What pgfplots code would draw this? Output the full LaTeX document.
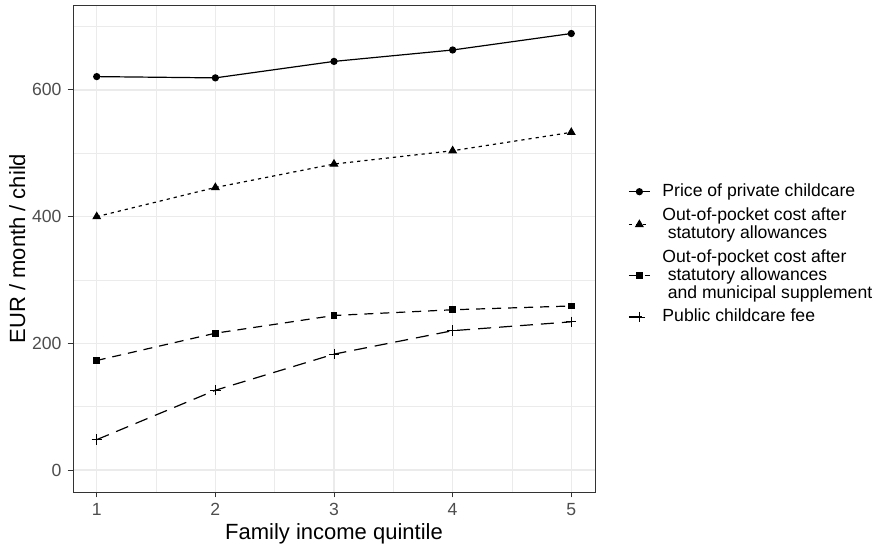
\documentclass[border=0pt]{standalone}
\usepackage{fontspec}
\setmainfont{Liberation Sans}
\usepackage{pgfplots}
\pgfplotsset{compat=1.18}
\definecolor{gridc}{HTML}{EBEBEB}
\definecolor{g20}{HTML}{333333}
\definecolor{g30}{HTML}{4D4D4D}
\begin{document}
\begin{tikzpicture}
\begin{axis}[
 scale only axis, width=261pt, height=243.5pt,
 xmin=0.8, xmax=5.2, ymin=-34.6, ymax=734,
 xtick={1,2,3,4,5}, ytick={0,200,400,600},
 minor xtick={1.5,2.5,3.5,4.5}, minor ytick={100,300,500,700},
 grid=both,
 major grid style={draw=gridc, line width=0.6pt},
 minor grid style={draw=gridc, line width=0.3pt},
 axis line style={draw=g20, line width=0.5pt},
 tick style={draw=g20, line width=0.5pt},
 tick align=outside, major tick length=2.7pt, minor tick length=0pt,
 xtick pos=left, ytick pos=left,
 ticklabel style={font=\fontsize{8.8}{10}\selectfont, text=g30},
 xticklabel style={yshift=0.5pt},
 yticklabel style={xshift=0.5pt},
 /pgf/number format/assume math mode=true,
 xlabel={Family income quintile}, ylabel={EUR / month / child},
 label style={font=\fontsize{11}{13}\selectfont},
 xlabel style={yshift=3pt},
 ylabel style={yshift=-3.5pt},
 legend image code/.code={\draw[mark repeat=2,mark phase=2,#1] plot coordinates {(0pt,0pt) (5.25pt,0pt) (10.5pt,0pt)};},
 legend style={at={(1.063,0.488)}, anchor=west, draw=none, fill=none, inner sep=0pt,
   font=\fontsize{8.8}{9.0}\selectfont, cells={anchor=west, align=left}, row sep=0pt, column sep=4pt},
]
\addplot[black, line width=0.6pt, mark=*, mark size=1.5pt] coordinates {(1,621) (2,619) (3,645) (4,663) (5,689)};
\addlegendentry{Price of private childcare}
\addplot[black, line width=0.6pt, dash pattern=on 1.6pt off 2pt, mark=triangle*, mark size=2pt, mark options={solid}] coordinates {(1,400) (2,446) (3,483) (4,504) (5,533)};
\addlegendentry{Out-of-pocket cost after\\\hspace*{0.3em}statutory allowances}
\addplot[black, line width=0.6pt, dash pattern=on 4.5pt off 3.5pt, mark=square*, mark size=1.4pt, mark options={solid}] coordinates {(1,173) (2,216) (3,244) (4,253) (5,259)};
\addlegendentry{Out-of-pocket cost after\\\hspace*{0.3em}statutory allowances\\\hspace*{0.3em}and municipal supplement}
\addplot[black, line width=0.6pt, dash pattern=on 6.5pt off 4pt, mark=+, mark size=2.6pt, mark options={solid, line width=0.45pt}] coordinates {(1,48) (2,126) (3,183) (4,220) (5,234)};
\addlegendentry{Public childcare fee}
\end{axis}
\pgfresetboundingbox
\path (-36.5pt,-27pt) rectangle (401.5pt,246pt);
\end{tikzpicture}
\end{document}
